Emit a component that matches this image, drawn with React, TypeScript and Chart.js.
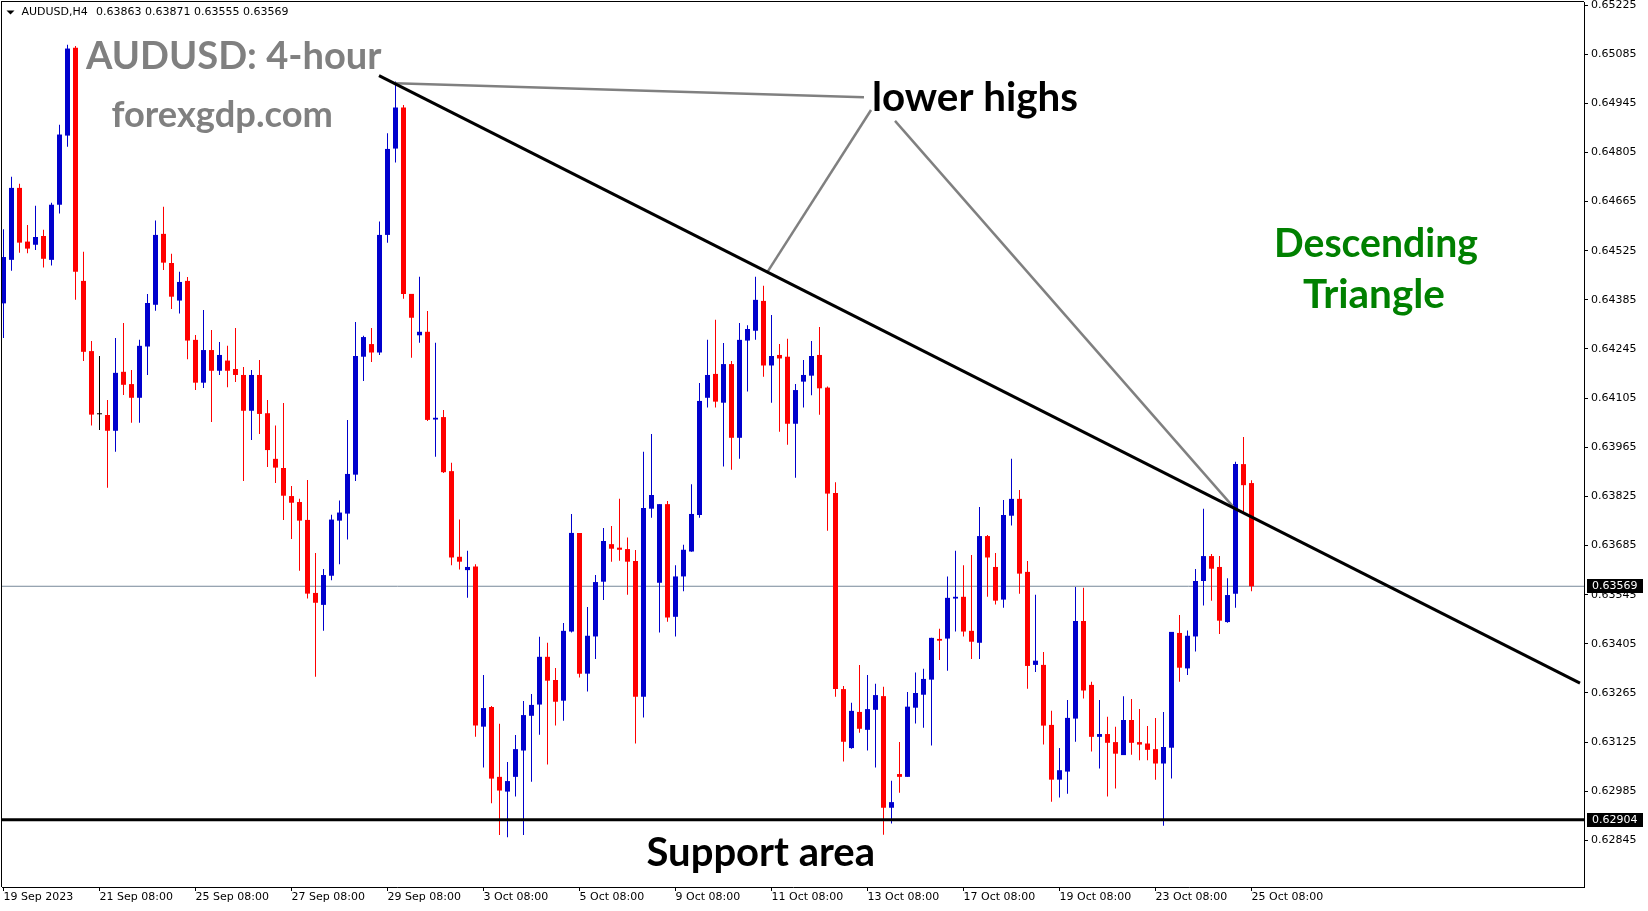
import React, { useEffect, useRef } from "react";
import { Chart, registerables } from "chart.js";

Chart.register(...registerables);

// ---- Candle data (AUDUSD H4), index 0 = 19 Sep 2023 08:00 ----
const opens = [
  0.64375, 0.64499, 0.64704, 0.64551, 0.64542, 0.64567, 0.64499, 0.64656, 0.64853, 0.65103,
  0.64439, 0.64239, 0.64059, 0.64057, 0.64012, 0.64180, 0.64145, 0.64106, 0.64252, 0.64371,
  0.64573, 0.64490, 0.64383, 0.64439, 0.64271, 0.64149, 0.64242, 0.64183, 0.64212, 0.64188,
  0.64171, 0.64069, 0.64171, 0.64062, 0.63932, 0.63906, 0.63826, 0.63809, 0.63758, 0.63550,
  0.63516, 0.63599, 0.63756, 0.63776, 0.63887, 0.64223, 0.64259, 0.64235, 0.64570, 0.64816,
  0.64933, 0.64402, 0.64284, 0.64294, 0.64044, 0.64051, 0.63897, 0.63653, 0.63615, 0.63625,
  0.63169, 0.63225, 0.63026, 0.62984, 0.63026, 0.63101, 0.63200, 0.63232, 0.63368, 0.63302,
  0.63243, 0.63440, 0.63721, 0.63320, 0.63426, 0.63582, 0.63689, 0.63679, 0.63675, 0.63641,
  0.63254, 0.63790, 0.63579, 0.63803, 0.63482, 0.63597, 0.63668, 0.63772, 0.64106, 0.64174,
  0.64092, 0.64202, 0.63992, 0.64269, 0.64297, 0.64382, 0.64198, 0.64228, 0.64223, 0.64032,
  0.64152, 0.64169, 0.64228, 0.64135, 0.63835, 0.63276, 0.63108, 0.63211, 0.63160, 0.63217,
  0.63256, 0.62938, 0.63034, 0.63026, 0.63223, 0.63260, 0.63303, 0.63419, 0.63420, 0.63534,
  0.63539, 0.63442, 0.63408, 0.63712, 0.63624, 0.63531, 0.63770, 0.63818, 0.63610, 0.63345,
  0.63345, 0.63174, 0.63018, 0.63041, 0.63192, 0.63470, 0.63288, 0.63140, 0.63148, 0.63125,
  0.63088, 0.63188, 0.63125, 0.63121, 0.63105, 0.63064, 0.63109, 0.63436, 0.63335, 0.63426,
  0.63584, 0.63655, 0.63624, 0.63467, 0.63548, 0.63917, 0.63863,
];
const highs = [
  0.64586, 0.64736, 0.64716, 0.64598, 0.64653, 0.64585, 0.64662, 0.64884, 0.65112, 0.65108,
  0.64522, 0.64268, 0.64225, 0.64100, 0.64276, 0.64319, 0.64185, 0.64271, 0.64402, 0.64611,
  0.64650, 0.64516, 0.64465, 0.64450, 0.64285, 0.64356, 0.64299, 0.64265, 0.64254, 0.64305,
  0.64194, 0.64185, 0.64214, 0.64100, 0.64027, 0.64091, 0.63855, 0.63818, 0.63872, 0.63664,
  0.63618, 0.63773, 0.63813, 0.64043, 0.64322, 0.64283, 0.64305, 0.64608, 0.64860, 0.65007,
  0.64940, 0.64402, 0.64451, 0.64353, 0.64263, 0.64071, 0.63921, 0.63759, 0.63670, 0.63632,
  0.63316, 0.63228, 0.63177, 0.63068, 0.63145, 0.63242, 0.63262, 0.63425, 0.63408, 0.63336,
  0.63464, 0.63775, 0.63721, 0.63510, 0.63601, 0.63735, 0.63741, 0.63818, 0.63708, 0.63672,
  0.63952, 0.64003, 0.63803, 0.63812, 0.63629, 0.63687, 0.63860, 0.64148, 0.64271, 0.64328,
  0.64262, 0.64211, 0.64319, 0.64313, 0.64451, 0.64425, 0.64342, 0.64259, 0.64274, 0.64145,
  0.64214, 0.64268, 0.64308, 0.64138, 0.63865, 0.63285, 0.63237, 0.63345, 0.63316, 0.63291,
  0.63283, 0.63015, 0.63125, 0.63268, 0.63323, 0.63334, 0.63422, 0.63448, 0.63597, 0.63670,
  0.63629, 0.63658, 0.63795, 0.63715, 0.63664, 0.63815, 0.63932, 0.63843, 0.63641, 0.63545,
  0.63382, 0.63214, 0.63108, 0.63245, 0.63567, 0.63565, 0.63297, 0.63245, 0.63197, 0.63169,
  0.63256, 0.63248, 0.63219, 0.63171, 0.63194, 0.63211, 0.63439, 0.63487, 0.63443, 0.63618,
  0.63790, 0.63661, 0.63655, 0.63592, 0.63924, 0.63994, 0.63871,
];
const lows = [
  0.64276, 0.64468, 0.64519, 0.64518, 0.64527, 0.64477, 0.64483, 0.64631, 0.64821, 0.64385,
  0.64211, 0.64027, 0.64014, 0.63850, 0.63952, 0.64114, 0.64035, 0.64035, 0.64171, 0.64354,
  0.64470, 0.64359, 0.64346, 0.64216, 0.64128, 0.64134, 0.64037, 0.64171, 0.64136, 0.64151,
  0.63869, 0.63986, 0.64003, 0.63909, 0.63863, 0.63758, 0.63704, 0.63613, 0.63534, 0.63311,
  0.63442, 0.63586, 0.63632, 0.63702, 0.63869, 0.64154, 0.64208, 0.64228, 0.64548, 0.64776,
  0.64388, 0.64220, 0.64263, 0.64040, 0.63938, 0.63892, 0.63629, 0.63617, 0.63536, 0.63140,
  0.63053, 0.62951, 0.62860, 0.62854, 0.62970, 0.62860, 0.63012, 0.63146, 0.63061, 0.63172,
  0.63186, 0.63437, 0.63309, 0.63269, 0.63362, 0.63530, 0.63639, 0.63642, 0.63545, 0.63121,
  0.63195, 0.63764, 0.63437, 0.63468, 0.63426, 0.63555, 0.63667, 0.63764, 0.64078, 0.64078,
  0.63910, 0.63901, 0.63932, 0.64124, 0.64271, 0.64166, 0.64092, 0.64009, 0.63972, 0.63878,
  0.64078, 0.64113, 0.64058, 0.63727, 0.63254, 0.63070, 0.63106, 0.63152, 0.63101, 0.63053,
  0.62861, 0.62893, 0.62981, 0.63026, 0.63178, 0.63166, 0.63115, 0.63359, 0.63328, 0.63440,
  0.63426, 0.63362, 0.63362, 0.63539, 0.63517, 0.63508, 0.63742, 0.63548, 0.63277, 0.63325,
  0.63118, 0.62955, 0.62967, 0.62978, 0.63126, 0.63249, 0.63098, 0.63050, 0.62970, 0.62993,
  0.63088, 0.63089, 0.63073, 0.63073, 0.63018, 0.62887, 0.63021, 0.63297, 0.63316, 0.63383,
  0.63514, 0.63528, 0.63433, 0.63465, 0.63508, 0.63776, 0.63555,
];
const closes = [
  0.64507, 0.64704, 0.64548, 0.64531, 0.64564, 0.64502, 0.64656, 0.64856, 0.65101, 0.64465,
  0.64237, 0.64058, 0.64059, 0.64012, 0.64177, 0.64143, 0.64106, 0.64254, 0.64376, 0.64570,
  0.64491, 0.64394, 0.64436, 0.64269, 0.64149, 0.64242, 0.64183, 0.64228, 0.64183, 0.64171,
  0.64069, 0.64171, 0.64060, 0.63957, 0.63907, 0.63827, 0.63807, 0.63756, 0.63548, 0.63522,
  0.63601, 0.63759, 0.63779, 0.63889, 0.64225, 0.64279, 0.64235, 0.64570, 0.64815, 0.64933,
  0.64402, 0.64334, 0.64294, 0.64043, 0.64049, 0.63894, 0.63651, 0.63639, 0.63624, 0.63172,
  0.63222, 0.63021, 0.62987, 0.63014, 0.63105, 0.63202, 0.63231, 0.63368, 0.63300, 0.63240,
  0.63442, 0.63721, 0.63320, 0.63428, 0.63581, 0.63698, 0.63676, 0.63673, 0.63639, 0.63254,
  0.63792, 0.63829, 0.63803, 0.63480, 0.63597, 0.63673, 0.63775, 0.64097, 0.64171, 0.64095,
  0.64202, 0.63992, 0.64271, 0.64302, 0.64385, 0.64198, 0.64225, 0.64218, 0.64032, 0.64128,
  0.64171, 0.64225, 0.64133, 0.63833, 0.63276, 0.63126, 0.63214, 0.63163, 0.63219, 0.63259,
  0.62938, 0.62954, 0.63026, 0.63226, 0.63265, 0.63305, 0.63422, 0.63414, 0.63536, 0.63539,
  0.63440, 0.63411, 0.63712, 0.63651, 0.63528, 0.63772, 0.63818, 0.63605, 0.63342, 0.63357,
  0.63172, 0.63018, 0.63045, 0.63194, 0.63470, 0.63272, 0.63140, 0.63148, 0.63123, 0.63092,
  0.63188, 0.63123, 0.63118, 0.63103, 0.63064, 0.63111, 0.63439, 0.63337, 0.63428, 0.63584,
  0.63655, 0.63619, 0.63471, 0.63544, 0.63917, 0.63857, 0.63569,
];

const xTickIndex = [0, 12, 24, 36, 48, 60, 72, 84, 96, 108, 120, 132, 144, 156];
const xTickLabels = [
  "19 Sep 2023", "21 Sep 08:00", "25 Sep 08:00", "27 Sep 08:00", "29 Sep 08:00",
  "3 Oct 08:00", "5 Oct 08:00", "9 Oct 08:00", "11 Oct 08:00", "13 Oct 08:00",
  "17 Oct 08:00", "19 Oct 08:00", "23 Oct 08:00", "25 Oct 08:00",
];
const yTickValues = [
  0.62845, 0.62985, 0.63125, 0.63265, 0.63405, 0.63545, 0.63685, 0.63825, 0.63965,
  0.64105, 0.64245, 0.64385, 0.64525, 0.64665, 0.64805, 0.64945, 0.65085, 0.65225,
];

const lastPrice = 0.63569;
const supportPrice = 0.62904;
const trendLine = [
  { x: 46.94, y: 0.65024 },
  { x: 197.06, y: 0.63293 },
];
const pointerLineA = [
  { x: 48.94, y: 0.65002 },
  { x: 107.56, y: 0.64962 },
];
const pointerLineB = [
  { x: 108.44, y: 0.64926 },
  { x: 95.4, y: 0.64461 },
];
const pointerLineC = [
  { x: 111.44, y: 0.64895 },
  { x: 153.69, y: 0.63796 },
];

const X_MIN = -0.1875;
const X_MAX = 197.5625;
const Y_MIN = 0.627122;
const Y_MAX = 0.652336;

const BULL = "#0000CD";
const BEAR = "#FF0000";
const DOJI = "#000000";

function fitText(
  ctx: CanvasRenderingContext2D,
  text: string,
  left: number,
  right: number,
  baseline: number,
  color: string
) {
  ctx.font = 'bold 100px Lato';
  const w = ctx.measureText(text).width;
  const size = (100 * (right - left)) / w;
  ctx.font = `bold ${size.toFixed(2)}px Lato`;
  ctx.fillStyle = color;
  ctx.textAlign = "left";
  ctx.textBaseline = "alphabetic";
  ctx.fillText(text, left, baseline);
}

const decorPlugin = {
  id: "decor",
  afterDraw(chart: any) {
    const { ctx, chartArea: a, scales } = chart;
    const ys = scales.y;
    ctx.save();
    // frame (left & top)
    ctx.fillStyle = "#000";
    ctx.fillRect(a.left - 1, a.top - 1, a.right - a.left + 1, 1);
    ctx.fillRect(a.left - 1, a.top - 1, 1, a.bottom - a.top + 1);

    // header
    ctx.beginPath();
    ctx.moveTo(6.5, 10.5);
    ctx.lineTo(14.5, 10.5);
    ctx.lineTo(10.5, 14.5);
    ctx.closePath();
    ctx.fill();
    ctx.font = '11px "DejaVu Sans"';
    ctx.textAlign = "left";
    ctx.textBaseline = "middle";
    ctx.fillText("AUDUSD,H4", 21.5, 12.5);
    const n = closes.length - 1;
    ctx.fillText(
      [opens[n], highs[n], lows[n], closes[n]].map((v) => v.toFixed(5)).join(" "),
      96,
      12.5
    );

    // watermark & annotations
    fitText(ctx, "AUDUSD: 4-hour", 86, 381.5, 69, "#808080");
    fitText(ctx, "forexgdp.com", 111.5, 333, 126.5, "#808080");
    fitText(ctx, "lower highs", 872, 1078, 111, "#000000");
    fitText(ctx, "Descending", 1274, 1478, 257, "#008000");
    fitText(ctx, "Triangle", 1303, 1445, 308, "#008000");
    fitText(ctx, "Support area", 646.5, 875, 866, "#000000");

    // price boxes on the axis
    for (const v of [lastPrice, supportPrice]) {
      const py = Math.round(ys.getPixelForValue(v));
      ctx.fillStyle = "#000";
      ctx.fillRect(a.right + 3, py - 7, 56, 14);
      ctx.fillStyle = "#fff";
      ctx.font = '11px "DejaVu Sans"';
      ctx.textAlign = "left";
      ctx.textBaseline = "middle";
      ctx.fillText(v.toFixed(5), a.right + 8, py + 0.5);
    }
    ctx.restore();
  },
};

export default function App() {
  const ref = useRef<HTMLCanvasElement>(null);

  useEffect(() => {
    document.body.style.margin = "0";
    const canvas = ref.current;
    if (!canvas) return;
    const idx = closes.map((_, i) => i);
    const colors = idx.map((i) =>
      closes[i] > opens[i] ? BULL : closes[i] < opens[i] ? BEAR : DOJI
    );
    const bodyData = idx.map((i) => ({ x: i, y: [opens[i], closes[i]] }));
    const wickData = idx.map((i) => ({ x: i, y: [lows[i], highs[i]] }));

    const lineDs = (data: any[], color: string, width: number, order: number) => ({
      type: "line" as const,
      data,
      borderColor: color,
      borderWidth: width,
      pointRadius: 0,
      fill: false,
      tension: 0,
      order,
    });

    const chart = new Chart(canvas, {
      type: "bar",
      data: {
        datasets: [
          lineDs(
            [
              { x: X_MIN, y: lastPrice },
              { x: X_MAX, y: lastPrice },
            ],
            "#778899",
            1,
            10
          ) as any,
          {
            type: "bar",
            data: wickData as any,
            backgroundColor: colors,
            barThickness: 1,
            grouped: false,
            minBarLength: 1,
            inflateAmount: 0,
            borderWidth: 0,
            order: 6,
          },
          {
            type: "bar",
            data: bodyData as any,
            backgroundColor: colors,
            barThickness: 5,
            grouped: false,
            minBarLength: 1,
            inflateAmount: 0,
            borderWidth: 0,
            order: 5,
          },
          lineDs(pointerLineA, "#808080", 2.5, 3) as any,
          lineDs(pointerLineB, "#808080", 2.5, 3) as any,
          lineDs(pointerLineC, "#808080", 2.5, 3) as any,
          lineDs(trendLine, "#000000", 3, 2) as any,
          lineDs(
            [
              { x: X_MIN, y: supportPrice },
              { x: X_MAX, y: supportPrice },
            ],
            "#000000",
            3,
            1
          ) as any,
        ],
      },
      options: {
        responsive: false,
        animation: false,
        devicePixelRatio: 1,
        events: [],
        layout: { padding: { left: 2, top: 2, right: 0, bottom: 0 } },
        plugins: {
          legend: { display: false },
          tooltip: { enabled: false },
        },
        scales: {
          x: {
            type: "linear",
            position: "bottom",
            min: X_MIN,
            max: X_MAX,
            offset: false,
            grid: {
              display: true,
              drawOnChartArea: false,
              drawTicks: true,
              tickLength: 4,
              color: "#000",
              offset: false,
            },
            border: { display: true, color: "#000", width: 1 },
            ticks: {
              autoSkip: false,
              maxRotation: 0,
              minRotation: 0,
              align: "start",
              padding: 0,
              color: "#000",
              font: { family: "DejaVu Sans", size: 11 },
              callback: (_v: any, i: number) => xTickLabels[i],
            },
            afterBuildTicks: (s: any) => {
              s.ticks = xTickIndex.map((v) => ({ value: v }));
            },
            afterFit: (s: any) => {
              s.height = 24;
              s.paddingLeft = 0;
              s.paddingRight = 0;
            },
          },
          y: {
            type: "linear",
            position: "right",
            min: Y_MIN,
            max: Y_MAX,
            grid: {
              display: true,
              drawOnChartArea: false,
              drawTicks: true,
              tickLength: 4,
              color: "#000",
            },
            border: { display: true, color: "#000", width: 1 },
            ticks: {
              autoSkip: false,
              padding: 3,
              color: "#000",
              font: { family: "DejaVu Sans", size: 11 },
              callback: (v: any) => Number(v).toFixed(5),
            },
            afterBuildTicks: (s: any) => {
              s.ticks = yTickValues.map((v) => ({ value: v }));
            },
            afterFit: (s: any) => {
              s.width = 64;
              s.paddingTop = 0;
              s.paddingBottom = 0;
            },
          },
        },
      } as any,
      plugins: [decorPlugin],
    });

    let alive = true;
    if ((document as any).fonts && (document as any).fonts.load) {
      Promise.all([
        (document as any).fonts.load('bold 40px Lato'),
        (document as any).fonts.load('11px "DejaVu Sans"'),
      ]).then(() => {
        if (alive) chart.draw();
      });
    }
    return () => {
      alive = false;
      chart.destroy();
    };
  }, []);

  return (
    <div style={{ width: 1648, height: 911, background: "#fff" }}>
      <canvas ref={ref} width={1648} height={911} style={{ display: "block" }} />
    </div>
  );
}
